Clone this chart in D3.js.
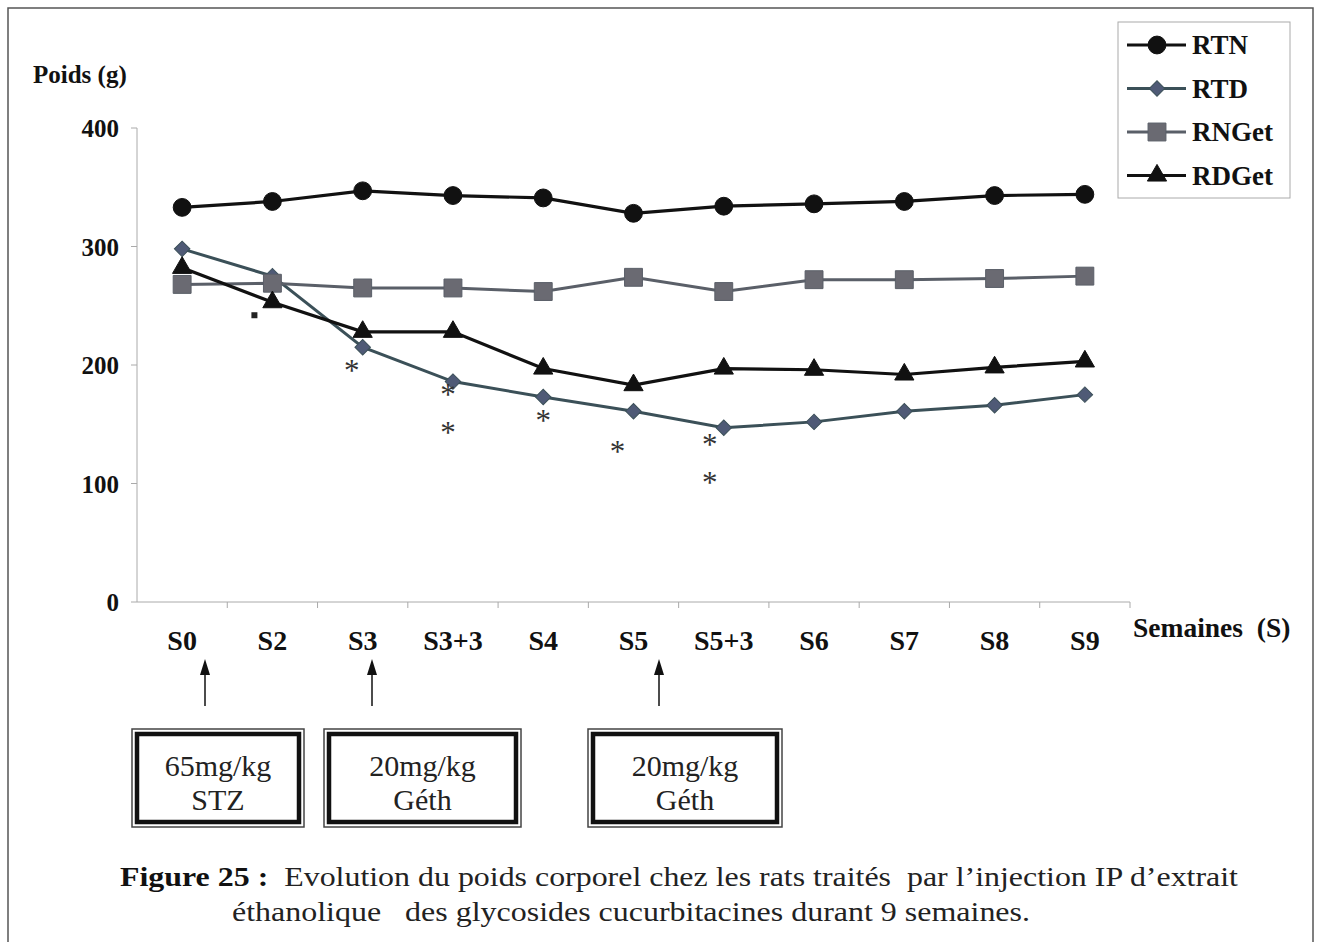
<!DOCTYPE html>
<html><head><meta charset="utf-8">
<script src="https://cdn.jsdelivr.net/npm/d3@7"></script>
<style>body{margin:0;background:#fff}svg{display:block}</style>
</head><body>
<script>
const weeks = ["S0","S2","S3","S3+3","S4","S5","S5+3","S6","S7","S8","S9"];
const RTN   = [333,338,347,343,341,328,334,336,338,343,344];
const RTD   = [298,275,215,186,173,161,147,152,161,166,175];
const RNGet = [268,269,265,265,262,274,262,272,272,273,275];
const RDGet = [282,253,228,228,197,183,197,196,192,198,203];
const yTicks = [0,100,200,300,400];
const seriesNames = ["RTN","RTD","RNGet","RDGet"];
// significance marks: [category, value, dx]
const stars = [["S3",199,-11],["S3+3",179,-5],["S3+3",147,-5],["S4",157,0],["S5",131,-16],["S5+3",137,-14],["S5+3",105,-14]];
const dots = [["S2",242,-18]];
const arrows = ["S0","S3","S5"];
const boxes = [["65mg/kg","STZ"],["20mg/kg","Géth"],["20mg/kg","Géth"]];

const W=1323,H=942;
const svg=d3.select("body").append("svg").attr("width",W).attr("height",H);
const serif='"Liberation Serif","Times New Roman",serif';

// outer frame
svg.append("path").attr("d",`M8,${H} V8 H1313 V${H}`).attr("fill","none").attr("stroke","#555").attr("stroke-width",1.5);

const x=d3.scaleBand().domain(weeks).range([137,1130]);
const y=d3.scaleLinear().domain([0,400]).range([602,128]);
const cx=c=>x(c)+x.bandwidth()/2;

// axes
const gx=svg.append("g").attr("transform","translate(0,602)");
gx.append("line").attr("x1",137).attr("x2",1130).attr("stroke","#aaa");
gx.selectAll("line.t").data(d3.range(1,12)).join("line").attr("class","t")
 .attr("x1",i=>137+i*x.bandwidth()).attr("x2",i=>137+i*x.bandwidth()).attr("y1",0).attr("y2",6).attr("stroke","#aaa");
gx.selectAll("text").data(weeks).join("text").attr("x",cx).attr("y",48)
 .attr("text-anchor","middle").attr("font-family",serif).attr("font-weight","bold").attr("font-size",28).attr("fill","#111").text(d=>d);

const gy=svg.append("g");
gy.append("line").attr("x1",137).attr("x2",137).attr("y1",128).attr("y2",602).attr("stroke","#aaa");
gy.selectAll("line.t").data(yTicks).join("line").attr("class","t")
 .attr("x1",131).attr("x2",137).attr("y1",y).attr("y2",y).attr("stroke","#aaa");
gy.selectAll("text").data(yTicks).join("text").attr("x",119).attr("y",d=>y(d)+9)
 .attr("text-anchor","end").attr("font-family",serif).attr("font-weight","bold").attr("font-size",25).attr("fill","#111").text(d=>d);

svg.append("text").attr("x",33).attr("y",83).attr("font-family",serif).attr("font-weight","bold").attr("font-size",25).attr("fill","#111").text("Poids (g)");
svg.append("text").attr("x",1133).attr("y",637).attr("font-family",serif).attr("font-weight","bold").attr("font-size",27.5).attr("fill","#111").attr("xml:space","preserve").text("Semaines  (S)");

const series=[
 {name:"RTN",vals:RTN,line:"#111",fill:"#111",sym:"circle",sz:250,sw:3.2,rot:0},
 {name:"RTD",vals:RTD,line:"#3b5058",fill:"#4f5a76",sym:"square",sz:120,sw:3,rot:45},
 {name:"RNGet",vals:RNGet,line:"#5a5f68",fill:"#6a6a72",sym:"square",sz:320,sw:3,rot:0},
 {name:"RDGet",vals:RDGet,line:"#111",fill:"#111",sym:"triangle",sz:160,sw:3.2,rot:0}
];
const symMap={circle:d3.symbolCircle,square:d3.symbolSquare,triangle:d3.symbolTriangle};
const line=d3.line().x((d,i)=>cx(weeks[i])).y(d=>y(d));
series.forEach(s=>{
  svg.append("path").datum(s.vals).attr("d",line).attr("fill","none").attr("stroke",s.line).attr("stroke-width",s.sw);
});
series.forEach(s=>{
  svg.selectAll(null).data(s.vals).join("path")
   .attr("transform",(d,i)=>`translate(${cx(weeks[i])},${y(d)}) rotate(${s.rot})`)
   .attr("d",d3.symbol(symMap[s.sym],s.sz)).attr("fill",s.fill).attr("stroke",s.line).attr("stroke-width",1);
});

// significance
svg.selectAll(null).data(stars).join("text").attr("x",d=>cx(d[0])+d[2]).attr("y",d=>y(d[1])+15)
 .attr("text-anchor","middle").attr("font-family",serif).attr("font-size",31).attr("fill","#333").text("*");
svg.selectAll(null).data(dots).join("rect").attr("x",d=>cx(d[0])+d[2]-3).attr("y",d=>y(d[1])-3).attr("width",6).attr("height",6).attr("fill","#222");

// legend
const lg=svg.append("g");
lg.append("rect").attr("x",1118).attr("y",22).attr("width",172).attr("height",176).attr("fill","#fff").attr("stroke","#aaa");
series.forEach((s,i)=>{
  const yy=45+i*43.5;
  lg.append("line").attr("x1",1127).attr("x2",1186).attr("y1",yy).attr("y2",yy).attr("stroke",s.line).attr("stroke-width",s.sw);
  lg.append("path").attr("transform",`translate(1157,${yy}) rotate(${s.rot})`).attr("d",d3.symbol(symMap[s.sym],s.sz)).attr("fill",s.fill).attr("stroke",s.line);
  lg.append("text").attr("x",1192).attr("y",yy+9).attr("font-family",serif).attr("font-weight","bold").attr("font-size",27).attr("fill","#111").text(s.name);
});

// arrows
const arrowX=[205,372,659];
arrows.forEach((a,i)=>{
  const ax=arrowX[i];
  svg.append("line").attr("x1",ax).attr("x2",ax).attr("y1",706).attr("y2",672).attr("stroke","#111").attr("stroke-width",1.5);
  svg.append("path").attr("d",`M${ax-5},675 L${ax},659 L${ax+5},675 Z`).attr("fill","#111");
});

// boxes
const boxX=[[131,305],[323,522],[587,783]];
boxes.forEach((b,i)=>{
  const [x0,x1]=boxX[i];
  svg.append("rect").attr("x",x0+1).attr("y",729).attr("width",x1-x0-2).attr("height",98).attr("fill","#fff").attr("stroke","#444").attr("stroke-width",1.5);
  svg.append("rect").attr("x",x0+6).attr("y",734).attr("width",x1-x0-12).attr("height",88).attr("fill","none").attr("stroke","#111").attr("stroke-width",4.5);
  const mx=(x0+x1)/2;
  svg.append("text").attr("x",mx).attr("y",776).attr("text-anchor","middle").attr("font-family",serif).attr("font-size",30).attr("fill","#222").text(b[0]);
  svg.append("text").attr("x",mx).attr("y",810).attr("text-anchor","middle").attr("font-family",serif).attr("font-size",30).attr("fill","#222").text(b[1]);
});

// caption
const cap=svg.append("text").attr("x",120).attr("y",886).attr("font-family",serif).attr("font-size",27).attr("fill","#222")
 .attr("xml:space","preserve").attr("textLength",1118).attr("lengthAdjust","spacingAndGlyphs");
cap.append("tspan").attr("font-weight","bold").attr("fill","#111").text("Figure 25 :");
cap.append("tspan").text("  Evolution du poids corporel chez les rats traités  par l’injection IP d’extrait");
svg.append("text").attr("x",232).attr("y",921).attr("font-family",serif).attr("font-size",27).attr("fill","#222").attr("xml:space","preserve")
 .attr("textLength",798).attr("lengthAdjust","spacingAndGlyphs")
 .text("éthanolique   des glycosides cucurbitacines durant 9 semaines.");
</script>
</body></html>
